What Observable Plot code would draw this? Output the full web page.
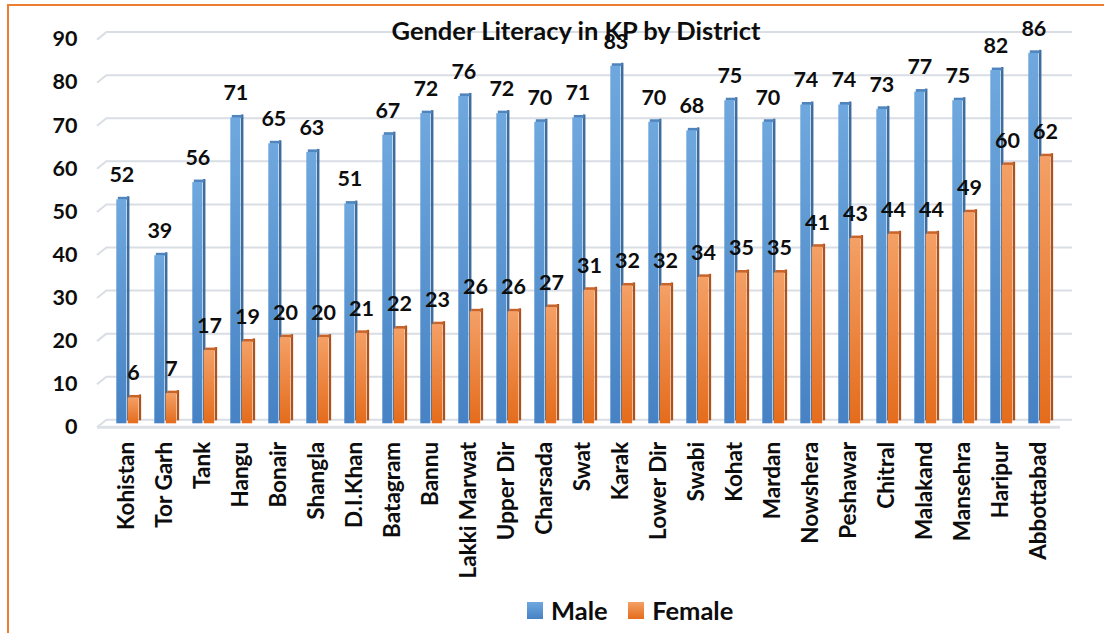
<!DOCTYPE html>
<html>
<head>
<meta charset="utf-8">
<script src="https://cdn.jsdelivr.net/npm/d3@7"></script>
<script src="https://cdn.jsdelivr.net/npm/@observablehq/plot@0.6"></script>
<style>
  html, body { margin: 0; padding: 0; background: #fff; overflow: hidden; }
  body { width: 1104px; height: 633px; position: relative; font-family: Lato, "Open Sans", sans-serif; }
  #frame { position: absolute; left: 7px; top: 4px; width: 1200px; height: 800px; border: 2.5px solid #ED7D31; box-sizing: border-box; }
  #chart { position: absolute; left: 0; top: 0; }
  #title { position: absolute; left: 0; width: 1152px; top: 15px; text-align: center; font-weight: 700; font-size: 25.5px; color: #0d0d0d; line-height: 30px; }
  #legend { position: absolute; top: 595px; left: 526.5px; display: flex; align-items: center; font-weight: 700; font-size: 25.5px; color: #0d0d0d; }
  .sw { width: 16.5px; height: 17px; display: inline-block; margin-right: 8px; }
  .item { display: flex; align-items: center; margin-right: 20px; }
  svg text { font-weight: 700; }
</style>
</head>
<body>
<div id="frame"></div>
<div id="chart"></div>
<div id="title">Gender Literacy in KP by District</div>
<div id="legend">
  <div class="item"><span class="sw" style="background:linear-gradient(#6FA8DE,#4682C4)"></span>Male</div>
  <div class="item"><span class="sw" style="background:linear-gradient(#F4A066,#E46C1C)"></span>Female</div>
</div>
<script>
const districts = ["Kohistan","Tor Garh","Tank","Hangu","Bonair","Shangla","D.I.Khan","Batagram","Bannu","Lakki Marwat","Upper Dir","Charsada","Swat","Karak","Lower Dir","Swabi","Kohat","Mardan","Nowshera","Peshawar","Chitral","Malakand","Mansehra","Haripur","Abbottabad"];
const male = [52,39,56,71,65,63,51,67,72,76,72,70,71,83,70,68,75,70,74,74,73,77,75,82,86];
const female = [6,7,17,19,20,20,21,22,23,26,26,27,31,32,32,34,35,35,41,43,44,44,49,60,62];
const yTicks = [0,10,20,30,40,50,60,70,80,90];

const rows = districts.map((d, i) => ({district: d, male: male[i], female: female[i]}));

const step = 38.57;
const plot = Plot.plot({
  width: 1104,
  height: 633,
  marginTop: 35.6,
  marginBottom: 633 - 423.3,
  marginLeft: 100,
  marginRight: 32,
  x: {domain: districts, range: [100, 100 + step * districts.length], padding: 0, label: null},
  y: {domain: [0, 90], label: null},
  style: {fontFamily: "Lato, 'Open Sans', sans-serif", background: "transparent", color: "#0d0d0d"},
  marks: [
    Plot.ruleY(yTicks, {stroke: "#D9DDE4", strokeWidth: 2, dy: -4, insetLeft: 7}),
    Plot.ruleY([0], {stroke: "#DDE1E7", strokeWidth: 3, dy: 3.5, insetLeft: -3, insetRight: 12}),
    // male bars
    Plot.barY(rows, {x: "district", y: "male", insetLeft: 20, insetRight: step - 23, dy: -3, fill: "#3E6C9C"}),
    Plot.tickY(rows, {x: "district", y: "male", insetLeft: 10.8, insetRight: step - 21.8, dy: -1.5, stroke: "#4F84BC", strokeWidth: 3}),
    Plot.barY(rows, {x: "district", y: "male", insetLeft: 9.3, insetRight: step - 20, fill: "url(#gMale)"}),
    // female bars
    Plot.barY(rows, {x: "district", y: "female", insetLeft: 31.7, insetRight: step - 34.7, dy: -3, fill: "#AE521A"}),
    Plot.tickY(rows, {x: "district", y: "female", insetLeft: 22.2, insetRight: step - 33.5, dy: -1.5, stroke: "#C8632A", strokeWidth: 3}),
    Plot.barY(rows, {x: "district", y: "female", insetLeft: 20.7, insetRight: step - 31.7, fill: "url(#gFemale)"}),
    // labels
    Plot.text(rows, {x: "district", y: "male", text: d => String(d.male), dx: -4.64, dy: -24.5, fontSize: 21.5, fontWeight: "bold", fill: "#0d0d0d"}),
    Plot.text(rows, {x: "district", y: "female", text: d => String(d.female), dx: 6.9, dy: -24.5, fontSize: 21.5, fontWeight: "bold", fill: "#0d0d0d"}),
    Plot.axisY(yTicks, {tickSize: 0, tickPadding: 23, dy: 3.4, fontSize: 21.5, fontWeight: "bold", label: null}),
    Plot.axisX({tickSize: 0, tickRotate: -90, tickPadding: 18, fontSize: 22.5, fontWeight: "bold", label: null})
  ]
});

// gradients for bar fronts
const svg = d3.select(plot);
const defs = svg.insert("defs", ":first-child");
function grad(id, c0, c1) {
  const g = defs.append("linearGradient").attr("id", id).attr("x1", 0).attr("y1", 0).attr("x2", 0).attr("y2", 1);
  g.append("stop").attr("offset", "0%").attr("stop-color", c0);
  g.append("stop").attr("offset", "100%").attr("stop-color", c1);
}
grad("gMale", "#6FA8DE", "#4682C4");
grad("gFemale", "#F4A066", "#E46C1C");

// 3D slant at left end of each gridline
const ys = plot.scale("y");
const gd = svg.insert("g", "defs + *").attr("stroke", "#D9DDE4").attr("stroke-width", 2);
for (const t of yTicks) {
  const yy = ys.apply(t);
  gd.append("line").attr("x1", 97).attr("y1", yy + 4).attr("x2", 107).attr("y2", yy - 4);
}
document.getElementById("chart").appendChild(plot);
</script>
</body>
</html>
